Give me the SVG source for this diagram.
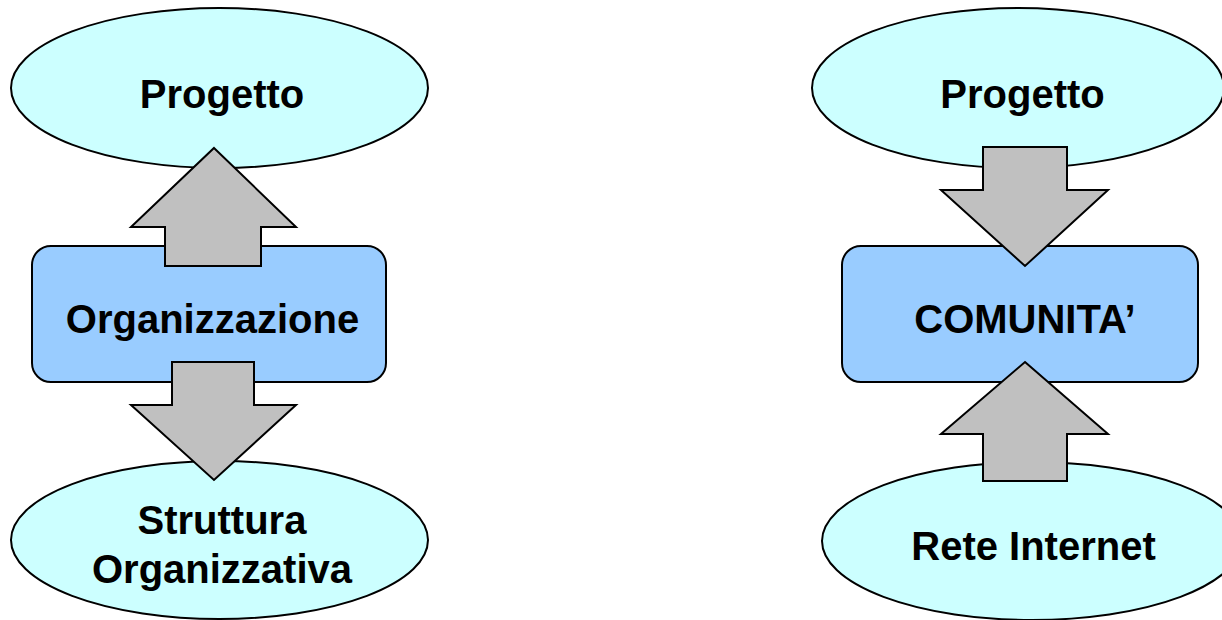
<svg xmlns="http://www.w3.org/2000/svg" width="1222" height="620" viewBox="0 0 1222 620">
  <style>
    .oval { fill: #CCFFFF; stroke: #000; stroke-width: 2; }
    .box { fill: #99CCFF; stroke: #000; stroke-width: 2; }
    .arrow { fill: #C0C0C0; stroke: #000; stroke-width: 2; stroke-linejoin: miter; }
    .label { font-family: "Liberation Sans", Arial, sans-serif; font-weight: bold; font-size: 40px; fill: #000; text-anchor: middle; }
  </style>
  <rect width="1222" height="620" fill="#FFFFFF"/>

  <!-- left column -->
  <g id="progetto-left">
    <ellipse class="oval" cx="219.5" cy="88" rx="208.5" ry="80"/>
    <text class="label" x="222" y="108">Progetto</text>
  </g>
  <g id="organizzazione">
    <rect class="box" x="32" y="246" width="354" height="136" rx="19" ry="19"/>
    <text class="label" x="212.5" y="333">Organizzazione</text>
  </g>
  <g id="struttura-organizzativa">
    <ellipse class="oval" cx="219.5" cy="540" rx="208.5" ry="79"/>
    <text class="label" x="222" y="534">Struttura</text>
    <text class="label" x="222" y="583">Organizzativa</text>
  </g>

  <!-- right column -->
  <g id="progetto-right">
    <ellipse class="oval" cx="1018" cy="88" rx="206" ry="80"/>
    <text class="label" x="1022.5" y="108">Progetto</text>
  </g>
  <g id="comunita">
    <rect class="box" x="842" y="246" width="356" height="136" rx="19" ry="19"/>
    <text class="label" x="1025" y="333">COMUNITA’</text>
  </g>
  <g id="rete-internet">
    <ellipse class="oval" cx="1032" cy="541" rx="210" ry="79"/>
    <text class="label" x="1033.5" y="560">Rete Internet</text>
  </g>

  <!-- block arrows -->
  <g id="connectors">
    <polygon class="arrow" points="214,148 296,227 261,227 261,266 165,266 165,227 131,227"/>
    <polygon class="arrow" points="172,362 254,362 254,405 296,405 214,480 131,405 172,405"/>
    <polygon class="arrow" points="983,147 1067,147 1067,190 1108,190 1025,266 941,190 983,190"/>
    <polygon class="arrow" points="1025,362 1108,434 1067,434 1067,481 983,481 983,434 941,434"/>
  </g>
</svg>
